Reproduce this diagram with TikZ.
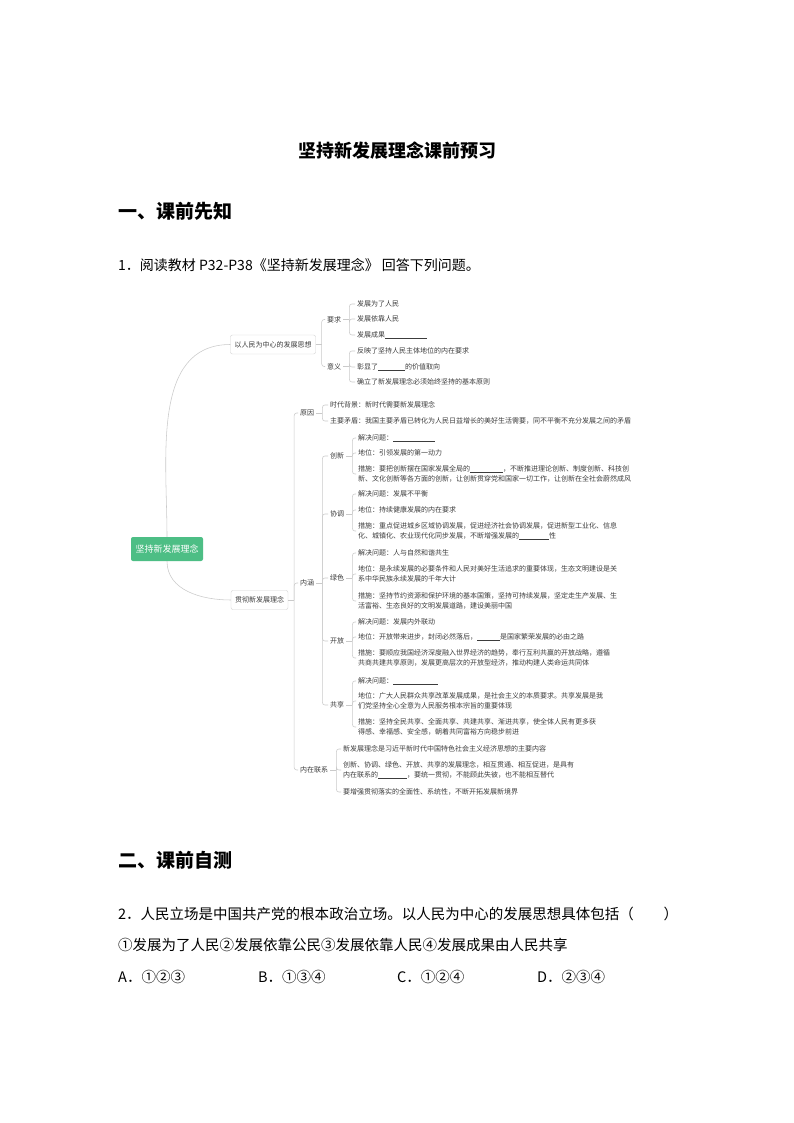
\documentclass[tikz,border=0pt]{standalone}
\usepackage{fontspec}
\setmainfont{Noto Sans CJK SC}
\usetikzlibrary{positioning,calc}
\definecolor{mapgreen}{HTML}{4DBE85}
\definecolor{maptext}{HTML}{3C3C3C}
\definecolor{mapline}{HTML}{CACACA}
\definecolor{boxline}{HTML}{D2D2D2}
\newcommand{\blank}[1]{\rule[-1pt]{#1pt}{0.4pt}}
% parent dash, then bracket into the child
\newcommand{\bra}[2]{\draw[link] (#1.east) -- ++(6,0);
  \draw[link,rounded corners=2.5pt] (#1.east) ++(6,0) |- (#2.west);}

\begin{document}
\begin{tikzpicture}[x=1pt,y=-1pt,
  leaf/.style={anchor=west,inner xsep=2pt,inner ysep=1pt,align=left,text=maptext,
    font=\fontsize{7}{10.5}\selectfont},
  topic/.style={leaf,anchor=center,draw=boxline,rounded corners=2pt,minimum height=19pt,inner xsep=4pt},
  link/.style={draw=mapline,line width=0.55pt},
  head/.style={anchor=west,inner sep=0pt,font=\bfseries\fontsize{19}{19}\selectfont},
  body/.style={anchor=west,inner sep=0pt,font=\fontsize{14.5}{14.5}\selectfont}]
\useasboundingbox[fill=white] (0,0) rectangle (794,1123);

\node[anchor=center,inner sep=0pt,font=\bfseries\fontsize{18}{18}\selectfont] (title) at (397,151) {坚持新发展理念课前预习};
\node[head] (h1) at (118,211) {一、课前先知};
\node[body,font=\fontsize{14}{14}\selectfont] (q1) at (118,265) {1．阅读教材 P32-P38《坚持新发展理念》 回答下列问题。};

% mind map
\node[fill=mapgreen,text=white,rounded corners=2pt,minimum width=72pt,minimum height=24pt,
  font=\fontsize{9}{9}\selectfont] (root) at (167,549) {坚持新发展理念};
\node[topic] (pp) at (273,344.5) {以人民为中心的发展思想};
\node[topic] (gc) at (259.5,600) {贯彻新发展理念};
\draw[link] (root.north) to[out=90,in=180] (pp.west);
\draw[link] (root.south) to[out=-90,in=180] (gc.west);

\node[leaf] (yq) at (325,319.5) {要求};
\node[leaf] (yy) at (325,366.5) {意义};
\bra{pp}{yq} \bra{pp}{yy}
\foreach \i/\y/\txt in {1/304/{发展为了人民},2/319/{发展依靠人民},3/335/{发展成果\blank{42}}}
  {\node[leaf] (yq\i) at (355,\y) {\txt}; \bra{yq}{yq\i}}
\foreach \i/\y/\txt in {1/351/{反映了坚持人民主体地位的内在要求},2/367/{彰显了\blank{27}的价值取向},
  3/382/{确立了新发展理念必须始终坚持的基本原则}}
  {\node[leaf] (yy\i) at (355,\y) {\txt}; \bra{yy}{yy\i}}

\node[leaf] (yin) at (298,413) {原因};
\node[leaf] (nh) at (298,583) {内涵};
\node[leaf] (nz) at (298,770) {内在联系};
\bra{gc}{yin} \bra{gc}{nh} \bra{gc}{nz}
\foreach \i/\y/\txt in {1/405/{时代背景：新时代需要新发展理念},
  2/421/{主要矛盾：我国主要矛盾已转化为人民日益增长的美好生活需要，同不平衡不充分发展之间的矛盾}}
  {\node[leaf] (yin\i) at (328,\y) {\txt}; \bra{yin}{yin\i}}

\node[leaf] (cx) at (328,456) {创新};
\node[leaf] (xt) at (328,514) {协调};
\node[leaf] (ls) at (328,578) {绿色};
\node[leaf] (kf) at (328,641) {开放};
\node[leaf] (gx) at (328,705) {共享};
\bra{nh}{cx} \bra{nh}{xt} \bra{nh}{ls} \bra{nh}{kf} \bra{nh}{gx}

\foreach \i/\y/\txt in {1/438/{解决问题：\blank{42}},2/453/{地位：引领发展的第一动力},
  3/474/{措施：要把创新摆在国家发展全局的\blank{33}，不断推进理论创新、制度创新、科技创\\
  新、文化创新等各方面的创新，让创新贯穿党和国家一切工作，让创新在全社会蔚然成风}}
  {\node[leaf] (cx\i) at (356,\y) {\txt}; \bra{cx}{cx\i}}
\foreach \i/\y/\txt in {1/494/{解决问题：发展不平衡},2/510/{地位：持续健康发展的内在要求},
  3/531/{措施：重点促进城乡区域协调发展，促进经济社会协调发展，促进新型工业化、信息\\
  化、城镇化、农业现代化同步发展，不断增强发展的\blank{30}性}}
  {\node[leaf] (xt\i) at (356,\y) {\txt}; \bra{xt}{xt\i}}
\foreach \i/\y/\txt in {1/553/{解决问题：人与自然和谐共生},
  2/574/{地位：是永续发展的必要条件和人民对美好生活追求的重要体现，生态文明建设是关\\
  系中华民族永续发展的千年大计},
  3/601/{措施：坚持节约资源和保护环境的基本国策，坚持可持续发展，坚定走生产发展、生\\
  活富裕、生态良好的文明发展道路，建设美丽中国}}
  {\node[leaf] (ls\i) at (356,\y) {\txt}; \bra{ls}{ls\i}}
\foreach \i/\y/\txt in {1/622/{解决问题：发展内外联动},
  2/637/{地位：开放带来进步，封闭必然落后，\blank{23}是国家繁荣发展的必由之路},
  3/658/{措施：要顺应我国经济深度融入世界经济的趋势，奉行互利共赢的开放战略，遵循\\
  共商共建共享原则，发展更高层次的开放型经济，推动构建人类命运共同体}}
  {\node[leaf] (kf\i) at (356,\y) {\txt}; \bra{kf}{kf\i}}
\foreach \i/\y/\txt in {1/681/{解决问题：\blank{45}},
  2/701/{地位：广大人民群众共享改革发展成果，是社会主义的本质要求。共享发展是我\\
  们党坚持全心全意为人民服务根本宗旨的重要体现},
  3/727/{措施：坚持全民共享、全面共享、共建共享、渐进共享，使全体人民有更多获\\
  得感、幸福感、安全感，朝着共同富裕方向稳步前进}}
  {\node[leaf] (gx\i) at (356,\y) {\txt}; \bra{gx}{gx\i}}
\foreach \i/\y/\txt in {1/749/{新发展理念是习近平新时代中国特色社会主义经济思想的主要内容},
  2/770/{创新、协调、绿色、开放、共享的发展理念，相互贯通、相互促进，是具有\\
  内在联系的\blank{29}，要统一贯彻，不能顾此失彼，也不能相互替代},
  3/792/{要增强贯彻落实的全面性、系统性，不断开拓发展新境界}}
  {\node[leaf] (nz\i) at (341,\y) {\txt}; \bra{nz}{nz\i}}

\node[head] (h2) at (118,860) {二、课前自测};
\node[body] (q2) at (118,914) {2．人民立场是中国共产党的根本政治立场。以人民为中心的发展思想具体包括（\hspace{30pt}）};
\node[body] (q2s) at (118,945) {①发展为了人民②发展依靠公民③发展依靠人民④发展成果由人民共享};
\foreach \x/\o/\txt in {118/A/①②③,258/B/①③④,397/C/①②④,537/D/②③④}
  {\node[body] (opt\o) at (\x,977) {\o．\txt};}
\end{tikzpicture}
\end{document}
